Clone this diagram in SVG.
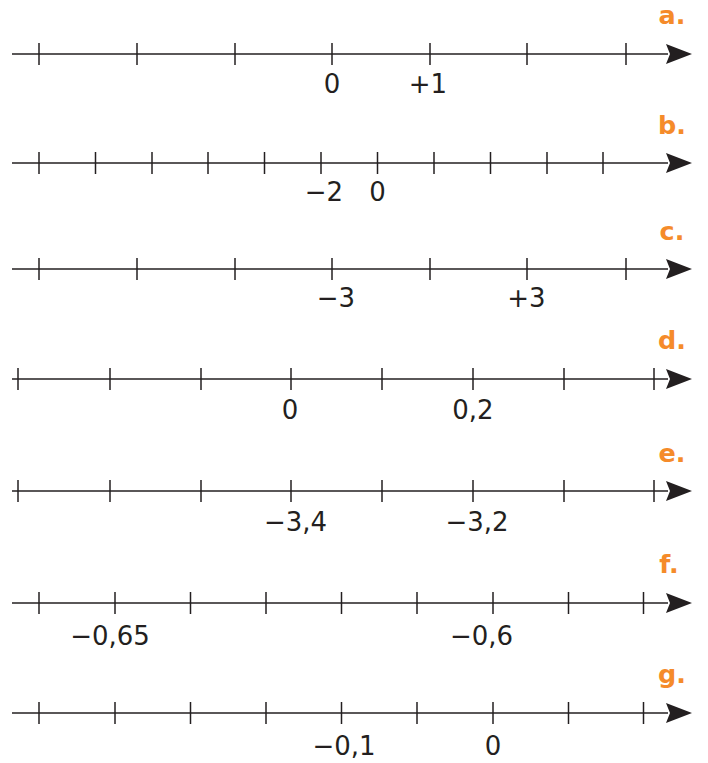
<svg xmlns="http://www.w3.org/2000/svg" xmlns:xlink="http://www.w3.org/1999/xlink" width="708" height="763" viewBox="0 0 708 763">
<style>
.ax{stroke:#231f20;stroke-width:1.5;fill:none}
.tk{stroke:#231f20;stroke-width:1.5}
.num{font-family:"DejaVu Sans",Verdana,sans-serif;font-size:26px;fill:#231f20;text-anchor:middle}
.lbl{font-family:"DejaVu Sans",Verdana,sans-serif;font-size:25.5px;font-weight:bold;fill:#f58b2a;text-anchor:middle}
</style>
<defs>
<path id="arr" d="M0,-10 L26,0 L0,10 L4,0 Z" fill="#231f20"/>
<path id="t" d="M0,-11 V11" class="tk"/>
</defs>
<rect width="708" height="763" fill="#ffffff"/>

<g id="line-a">
<path class="ax" d="M12,54 H668"/>
<use xlink:href="#arr" x="666" y="54"/>
<g transform="translate(0,54)">
<use xlink:href="#t" x="39"/><use xlink:href="#t" x="137"/><use xlink:href="#t" x="235"/><use xlink:href="#t" x="332"/><use xlink:href="#t" x="430"/><use xlink:href="#t" x="527"/><use xlink:href="#t" x="626"/>
</g>
<text class="num" x="332" y="93">0</text>
<text class="num" x="428" y="93">+1</text>
<text class="lbl" x="672" y="24">a.</text>
</g>

<g id="line-b">
<path class="ax" d="M12,163 H668"/>
<use xlink:href="#arr" x="666" y="163"/>
<g transform="translate(0,163)">
<use xlink:href="#t" x="39"/><use xlink:href="#t" x="95.5"/><use xlink:href="#t" x="152"/><use xlink:href="#t" x="208"/><use xlink:href="#t" x="264.5"/><use xlink:href="#t" x="321"/><use xlink:href="#t" x="377.5"/><use xlink:href="#t" x="434"/><use xlink:href="#t" x="490.5"/><use xlink:href="#t" x="547"/><use xlink:href="#t" x="603"/>
</g>
<text class="num" x="324" y="201">−2</text>
<text class="num" x="377.5" y="201">0</text>
<text class="lbl" x="672" y="134">b.</text>
</g>

<g id="line-c">
<path class="ax" d="M12,269 H668"/>
<use xlink:href="#arr" x="666" y="269"/>
<g transform="translate(0,269)">
<use xlink:href="#t" x="39"/><use xlink:href="#t" x="137"/><use xlink:href="#t" x="235"/><use xlink:href="#t" x="332"/><use xlink:href="#t" x="430"/><use xlink:href="#t" x="527"/><use xlink:href="#t" x="626"/>
</g>
<text class="num" x="336" y="307">−3</text>
<text class="num" x="526.5" y="307">+3</text>
<text class="lbl" x="672" y="240">c.</text>
</g>

<g id="line-d">
<path class="ax" d="M12,379 H668"/>
<use xlink:href="#arr" x="666" y="379"/>
<g transform="translate(0,379)">
<use xlink:href="#t" x="18"/><use xlink:href="#t" x="110"/><use xlink:href="#t" x="201"/><use xlink:href="#t" x="291"/><use xlink:href="#t" x="382"/><use xlink:href="#t" x="473"/><use xlink:href="#t" x="564"/><use xlink:href="#t" x="654"/>
</g>
<text class="num" x="290" y="419">0</text>
<text class="num" x="473" y="419">0,2</text>
<text class="lbl" x="672" y="349">d.</text>
</g>

<g id="line-e">
<path class="ax" d="M12,491 H668"/>
<use xlink:href="#arr" x="666" y="491"/>
<g transform="translate(0,491)">
<use xlink:href="#t" x="18"/><use xlink:href="#t" x="110"/><use xlink:href="#t" x="201"/><use xlink:href="#t" x="291"/><use xlink:href="#t" x="382"/><use xlink:href="#t" x="473"/><use xlink:href="#t" x="564"/><use xlink:href="#t" x="654"/>
</g>
<text class="num" x="295.5" y="531">−3,4</text>
<text class="num" x="477" y="531">−3,2</text>
<text class="lbl" x="672" y="462">e.</text>
</g>

<g id="line-f">
<path class="ax" d="M12,603 H668"/>
<use xlink:href="#arr" x="666" y="603"/>
<g transform="translate(0,603)">
<use xlink:href="#t" x="39"/><use xlink:href="#t" x="115"/><use xlink:href="#t" x="190.5"/><use xlink:href="#t" x="266"/><use xlink:href="#t" x="341.5"/><use xlink:href="#t" x="417"/><use xlink:href="#t" x="493"/><use xlink:href="#t" x="568.5"/><use xlink:href="#t" x="643.5"/>
</g>
<text class="num" x="110" y="645">−0,65</text>
<text class="num" x="481.5" y="645">−0,6</text>
<text class="lbl" x="669" y="573">f.</text>
</g>

<g id="line-g">
<path class="ax" d="M12,713 H668"/>
<use xlink:href="#arr" x="666" y="713"/>
<g transform="translate(0,713)">
<use xlink:href="#t" x="39"/><use xlink:href="#t" x="115"/><use xlink:href="#t" x="190.5"/><use xlink:href="#t" x="266"/><use xlink:href="#t" x="341.5"/><use xlink:href="#t" x="417"/><use xlink:href="#t" x="493"/><use xlink:href="#t" x="568.5"/><use xlink:href="#t" x="643.5"/>
</g>
<text class="num" x="344" y="755">−0,1</text>
<text class="num" x="493" y="755">0</text>
<text class="lbl" x="672" y="683">g.</text>
</g>
</svg>
